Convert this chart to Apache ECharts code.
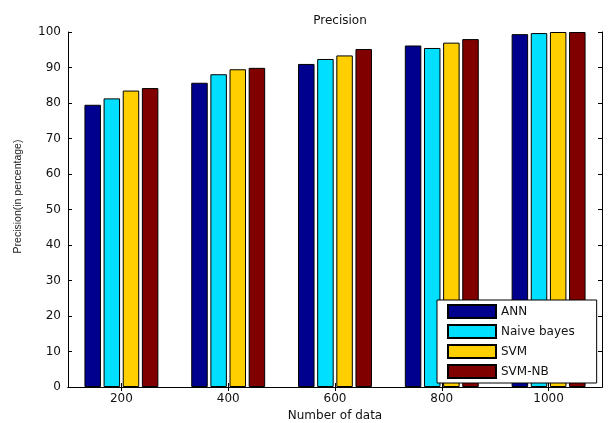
<!DOCTYPE html>
<html>
<head>
<meta charset="utf-8">
<title>Precision</title>
<script src="https://cdn.jsdelivr.net/npm/echarts@6/dist/echarts.min.js"></script>
<style>
  html, body { margin: 0; padding: 0; background: #ffffff; }
  #chart { width: 611px; height: 423px; }
</style>
</head>
<body>
<div id="chart"></div>
<script>
// Number of data points per experiment
const categories = ['200', '400', '600', '800', '1000'];

// Precision (%) per classifier
const annValues = [79.5, 85.7, 91.0, 96.2, 99.4];
const naiveBayesValues = [81.3, 88.1, 92.4, 95.5, 99.7];
const svmValues = [83.5, 89.5, 93.4, 97.0, 100];
const svmNbValues = [84.2, 89.9, 95.2, 98.0, 100];

const seriesNames = ['ANN', 'Naive bayes', 'SVM', 'SVM-NB'];
const seriesValues = [annValues, naiveBayesValues, svmValues, svmNbValues];
const seriesColors = ['#00008F', '#00DFFF', '#FFCF00', '#800000'];

const yTicks = { min: 0, max: 100, interval: 10 };

const textFont = 'DejaVu Sans';
const axisColor = '#000000';

const chart = echarts.init(document.getElementById('chart'), null, { renderer: 'canvas' });

const bars = seriesNames.map((name, i) => ({
  name: name,
  type: 'bar',
  data: seriesValues[i],
  xAxisIndex: 0,
  yAxisIndex: 0,
  barWidth: 16.5,
  barGap: '16%',
  itemStyle: {
    color: seriesColors[i],
    borderColor: '#000000',
    borderWidth: 1
  },
  emphasis: { disabled: true },
  z: 2
}));

chart.setOption({
  backgroundColor: '#ffffff',
  animation: false,
  title: {
    text: 'Precision',
    left: 335,
    top: 10,
    textAlign: 'center',
    textStyle: { fontFamily: textFont, fontSize: 12, fontWeight: 'normal', color: '#111111' }
  },
  grid: {
    left: 68,
    right: 9,
    top: 32,
    bottom: 36,
    containLabel: false,
    outerBoundsMode: 'none',
    show: true,
    backgroundColor: '#ffffff',
    borderWidth: 0
  },
  legend: {
    orient: 'vertical',
    left: 437,
    top: 300,
    data: seriesNames,
    selectedMode: false,
    icon: 'rect',
    itemWidth: 48,
    itemHeight: 13,
    itemGap: 5,
    padding: [4, 22, 4, 10],
    backgroundColor: '#ffffff',
    borderColor: '#000000',
    borderWidth: 1,
    textStyle: { fontFamily: textFont, fontSize: 12, color: '#111111' },
    z: 10
  },
  xAxis: [
    {
      type: 'category',
      data: categories,
      position: 'bottom',
      name: 'Number of data',
      nameLocation: 'middle',
      nameGap: 22,
      nameTextStyle: { fontFamily: textFont, fontSize: 12, color: '#111111' },
      axisLine: { show: true, lineStyle: { color: axisColor, width: 1 } },
      axisTick: { show: true, inside: true, alignWithLabel: true, length: 4, lineStyle: { color: axisColor } },
      axisLabel: { fontFamily: textFont, fontSize: 12, color: '#111111', margin: 6 },
      splitLine: { show: false },
      z: 5
    },
    {
      type: 'category',
      data: categories,
      position: 'top',
      axisLine: { show: true, lineStyle: { color: axisColor, width: 1 } },
      axisTick: { show: true, inside: true, alignWithLabel: true, length: 4, lineStyle: { color: axisColor } },
      axisLabel: { show: false },
      splitLine: { show: false },
      z: 5
    }
  ],
  yAxis: [
    {
      type: 'value',
      position: 'left',
      min: yTicks.min,
      max: yTicks.max,
      interval: yTicks.interval,
      name: 'Precision(in percentage)',
      nameLocation: 'middle',
      nameGap: 44,
      nameRotate: 90,
      nameTextStyle: {
        fontFamily: 'Liberation Sans',
        fontSize: 10.5,
        color: '#222222',
        padding: [0, 0, 0, 26]
      },
      axisLine: { show: true, lineStyle: { color: axisColor, width: 1 } },
      axisTick: { show: true, inside: true, length: 4, lineStyle: { color: axisColor } },
      axisLabel: { fontFamily: textFont, fontSize: 12, color: '#111111', margin: 7 },
      splitLine: { show: false },
      z: 5
    },
    {
      type: 'value',
      position: 'right',
      min: yTicks.min,
      max: yTicks.max,
      interval: yTicks.interval,
      axisLine: { show: true, lineStyle: { color: axisColor, width: 1 } },
      axisTick: { show: true, inside: true, length: 4, lineStyle: { color: axisColor } },
      axisLabel: { show: false },
      splitLine: { show: false },
      z: 5
    }
  ],
  series: bars
});
</script>
</body>
</html>
